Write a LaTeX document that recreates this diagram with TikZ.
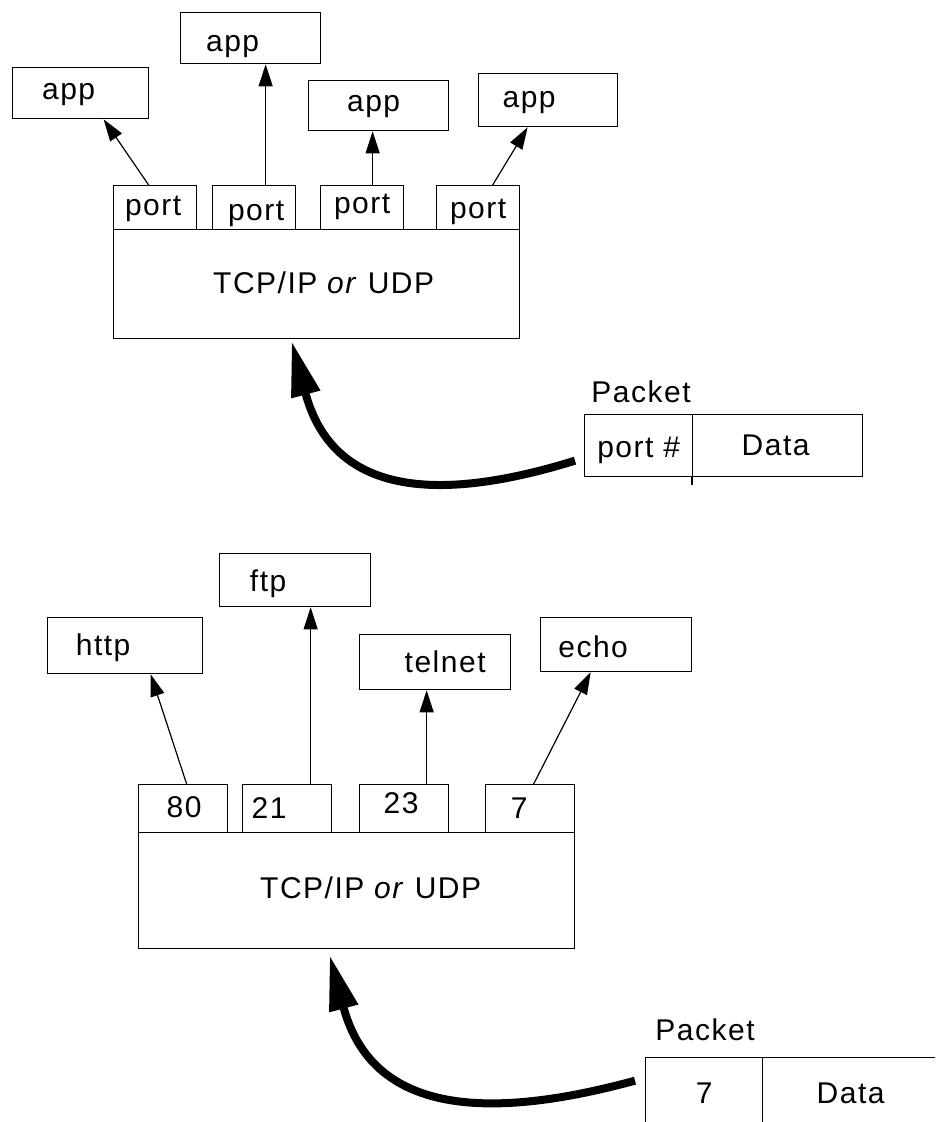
\documentclass[tikz,border=0pt]{standalone}
\usepackage{fontspec}
\setmainfont{Liberation Sans}[LetterSpace=5]
\usetikzlibrary{arrows.meta,calc}
\begin{document}
\begin{tikzpicture}[x=1pt,y=-1pt,
  every node/.style={font=\fontsize{30}{34}\selectfont},
  box/.style={draw,line width=1.3pt,inner sep=0pt,anchor=north west},
  thinarrow/.style={line width=1.2pt,-{Triangle[length=22pt,width=14pt]}},
  bigarrow/.style={line width=8pt,-{Triangle[length=55pt,width=28pt]}},
  plain/.style={inner sep=0pt}]
\clip (0,0) rectangle (935,1122);
\fill[white] (0,0) rectangle (935,1122);

% ---------- top diagram ----------
\node[box,minimum width=136pt,minimum height=51pt,label={[xshift=-12pt,yshift=-1pt]center:app}] (a1) at (12,67) {};
\node[box,minimum width=140pt,minimum height=51pt,label={[xshift=-18pt,yshift=-8pt]center:app}] (a2) at (180,12) {};
\node[box,minimum width=140pt,minimum height=50pt,label={[xshift=-5pt,yshift=-1pt]center:app}] (a3) at (308,80) {};
\node[box,minimum width=139pt,minimum height=53pt,label={[xshift=-19pt,yshift=-2pt]center:app}] (a4) at (478,73) {};

\node[box,minimum width=83pt,minimum height=44pt,label={[xshift=-2pt,yshift=-1pt]center:port}] (p1) at (113,185) {};
\node[box,minimum width=83pt,minimum height=44pt,label={[xshift=2pt,yshift=-6pt]center:port}] (p2) at (212,185) {};
\node[box,minimum width=83pt,minimum height=44pt,label={[xshift=0pt,yshift=1pt]center:port}] (p3) at (320,185) {};
\node[box,minimum width=83pt,minimum height=44pt,label={[xshift=0pt,yshift=-4pt]center:port}] (p4) at (436,185) {};

\node[box,minimum width=406pt,minimum height=109pt,label={[xshift=7pt,yshift=1pt]center:TCP/IP \textit{or} UDP}] (t1) at (113,229) {};

\draw[thinarrow] ([xshift=-6.5pt]p1.north) -- ([xshift=23pt]a1.south);
\draw[thinarrow] ([xshift=11.5pt]p2.north) -- ([xshift=15pt]a2.south);
\draw[thinarrow] ([xshift=10.5pt]p3.north) -- ([xshift=-6pt]a3.south);
\draw[thinarrow] ([xshift=14.5pt]p4.north) -- ([xshift=-20.5pt]a4.south);

\node[plain] (pk1lab) at (641,392) {Packet};
\node[box,minimum width=108pt,minimum height=62pt,label={[yshift=-5pt]center:port \#}] (pk1a) at (584,414) {};
\node[box,minimum width=170pt,minimum height=62pt,label={[xshift=-2pt]center:Data}] (pk1b) at (692,414) {};
\draw[line width=1.3pt] (pk1b.south west) -- ++(0,8);

\draw[bigarrow] ([xshift=-9pt,yshift=-15pt]pk1a.west) .. controls +(-145,45) and +(40,150) .. ([xshift=-25pt,yshift=-2pt]t1.south);

% ---------- bottom diagram ----------
\node[box,minimum width=155pt,minimum height=56pt,label={[xshift=-22pt,yshift=-2pt]center:http}] (h) at (47,617) {};
\node[box,minimum width=151pt,minimum height=53pt,label={[xshift=-27pt,yshift=-4pt]center:ftp}] (f) at (219,553) {};
\node[box,minimum width=151pt,minimum height=55pt,label={[xshift=10pt]center:telnet}] (tn) at (359,634) {};
\node[box,minimum width=151pt,minimum height=54pt,label={[xshift=-23pt,yshift=-2pt]center:echo}] (e) at (540,617) {};

\node[box,minimum width=89pt,minimum height=48pt,label={[xshift=1pt,yshift=1pt]center:80}] (q80) at (138,784) {};
\node[box,minimum width=89pt,minimum height=48pt,label={[xshift=-18pt,yshift=1pt]center:21}] (q21) at (242,784) {};
\node[box,minimum width=89pt,minimum height=48pt,label={[xshift=-3pt,yshift=5pt]center:23}] (q23) at (359,784) {};
\node[box,minimum width=89pt,minimum height=48pt,label={[xshift=-11pt,yshift=0pt]center:7}] (q7) at (485,784) {};

\node[box,minimum width=436pt,minimum height=116pt,label={[xshift=14pt,yshift=3pt]center:TCP/IP \textit{or} UDP}] (t2) at (138,832) {};

\draw[thinarrow] ([xshift=3.5pt]q80.north) -- ([xshift=25.5pt]h.south);
\draw[thinarrow] ([xshift=23.5pt]q21.north) -- ([xshift=15.5pt]f.south);
\draw[thinarrow] ([xshift=22.5pt]q23.north) -- ([xshift=-8.5pt]tn.south);
\draw[thinarrow] ([xshift=3.5pt]q7.north) -- ([xshift=-25.5pt]e.south);

\node[plain] (pk2lab) at (705,1030) {Packet};
\node[box,minimum width=117pt,minimum height=72pt,label={center:7}] (pk2a) at (645,1057) {};
\node[box,minimum width=180pt,minimum height=72pt,label={[xshift=-2pt]center:Data}] (pk2b) at (762,1057) {};

\draw[bigarrow] ([xshift=-10pt,yshift=13pt]pk2a.west) .. controls +(-165,45) and +(40,150) .. ([xshift=-27pt,yshift=-6pt]t2.south);
\end{tikzpicture}
\end{document}
